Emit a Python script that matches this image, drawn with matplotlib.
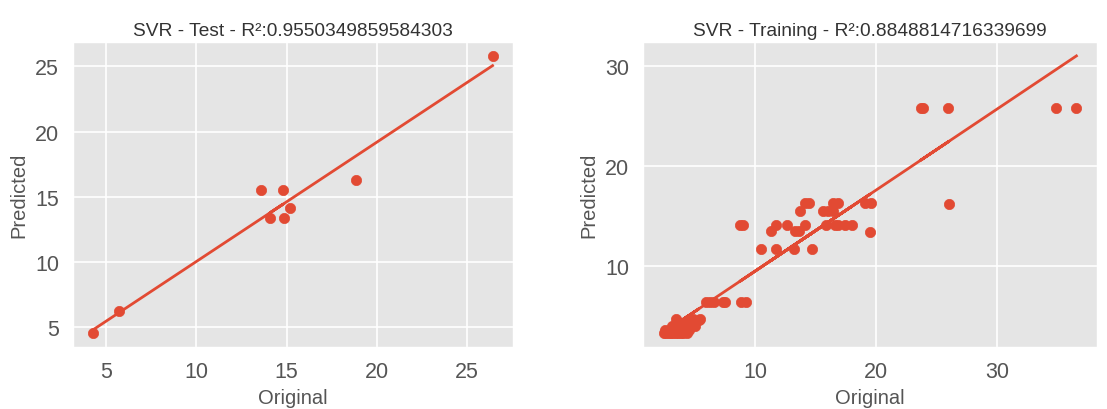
import numpy as np
import matplotlib
matplotlib.use("Agg")
import matplotlib.pyplot as plt

plt.style.use("ggplot")
plt.rcParams["font.family"] = ["Liberation Sans", "DejaVu Sans"]

# test set: original vs predicted
test_orig = [4.27, 5.73, 13.57, 14.80, 14.08, 14.87, 15.17, 18.85, 26.41]
test_pred = [4.54, 6.27, 15.55, 15.55, 13.39, 13.39, 14.15, 16.31, 25.81]
test_r2 = "0.9550349859584303"

# training set: original vs predicted
train_orig = [
    2.4, 2.6, 2.8, 3.0, 3.2, 3.4, 3.6, 3.8, 4.0, 4.3,
    2.5, 2.9, 3.3, 3.7, 4.1, 4.5, 3.1, 3.5, 3.9, 4.3,
    4.7, 5.0, 3.4, 3.6, 4.2, 4.6, 5.0, 5.3, 4.8, 5.4,
    5.9, 6.2, 6.6, 7.3, 7.5, 8.8, 9.2,
    10.47, 11.72, 13.16, 14.7,
    11.25, 13.3, 13.6, 19.5,
    8.7, 8.95, 11.7, 12.6, 14.07, 15.87, 16.56, 16.8, 17.4, 18.0,
    13.68, 15.6, 16.0, 16.4,
    14.1, 14.4, 16.4, 16.8, 19.06, 19.56,
    26.04,
    23.7, 23.9, 25.93, 34.93, 36.6,
]
train_pred = [
    3.2, 3.2, 3.2, 3.2, 3.2, 3.2, 3.2, 3.2, 3.2, 3.2,
    3.5, 3.5, 3.5, 3.5, 3.5, 3.5, 3.9, 3.9, 3.9, 3.9,
    3.9, 3.9, 4.6, 4.3, 4.3, 4.3, 4.3, 4.5, 4.6, 4.6,
    6.3, 6.3, 6.3, 6.3, 6.3, 6.3, 6.3,
    11.7, 11.7, 11.7, 11.7,
    13.43, 13.43, 13.43, 13.4,
    14.1, 14.1, 14.1, 14.1, 14.1, 14.1, 14.1, 14.1, 14.1, 14.1,
    15.5, 15.5, 15.5, 15.5,
    16.3, 16.3, 16.3, 16.3, 16.3, 16.3,
    16.22,
    25.8, 25.8, 25.8, 25.8, 25.8,
]
train_r2 = "0.8848814716339699"

red = "#E24A33"

fig = plt.figure(figsize=(11.07, 4.10), dpi=100)
ax1 = fig.add_axes([0.066, 0.151, 0.397, 0.744])
ax2 = fig.add_axes([0.581, 0.151, 0.410, 0.744])


def draw(ax, x, y, title):
    x = np.array(x)
    y = np.array(y)
    ax.scatter(x, y, color=red, s=55, zorder=3)
    m, b = np.polyfit(x, y, 1)
    ax.plot(x, m * x + b, color=red, lw=2, zorder=3)
    ax.set_title(title, fontsize=13.8, color="#333333", pad=5)
    ax.set_xlabel("Original", fontsize=14.5, color="#555555", labelpad=4)
    ax.set_ylabel("Predicted", fontsize=14.5, color="#555555", labelpad=5)
    ax.tick_params(labelsize=15.5, length=0, colors="#555555", pad=10)
    ax.grid(True, color="white", lw=1.2)


draw(ax1, test_orig, test_pred, "SVR - Test - R\u00b2:" + test_r2)
ax1.set_xticks([5, 10, 15, 20, 25])
ax1.set_yticks([5, 10, 15, 20, 25])

draw(ax2, train_orig, train_pred, "SVR - Training - R\u00b2:" + train_r2)
ax2.set_xticks([10, 20, 30])
ax2.set_yticks([10, 20, 30])

fig.savefig("out.png", dpi=100)
